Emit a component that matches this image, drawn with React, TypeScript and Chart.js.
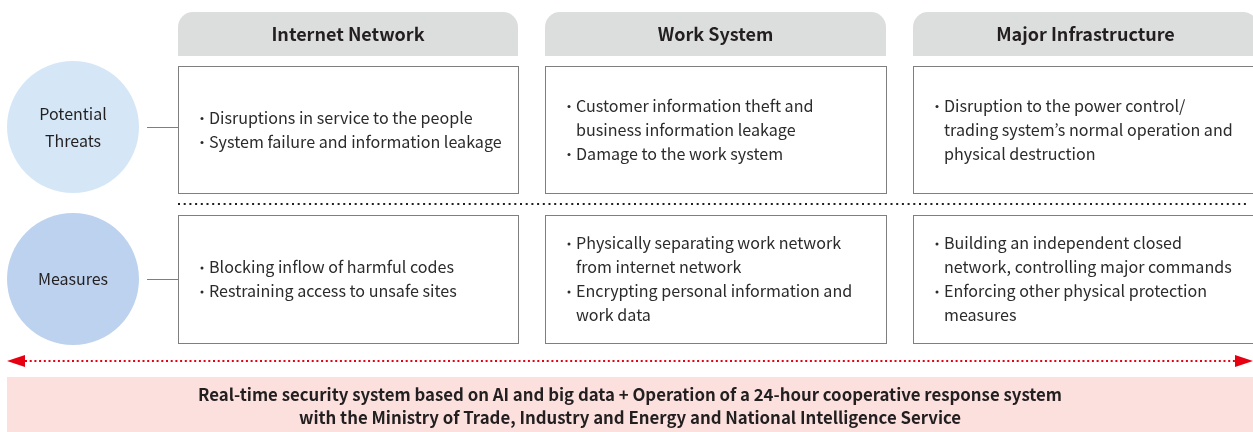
import { useEffect, useRef } from "react";
import { Chart, registerables } from "chart.js";

Chart.register(...registerables);

// ---- content ----
const columns = ["Internet Network", "Work System", "Major Infrastructure"];
const rowLabels = [["Potential", "Threats"], ["Measures"]];
const threats: string[][][] = [
  [["Disruptions in service to the people"], ["System failure and information leakage"]],
  [["Customer information theft and", "business information leakage"], ["Damage to the work system"]],
  [["Disruption to the power control/", "trading system’s normal operation and", "physical destruction"]],
];
const measures: string[][][] = [
  [["Blocking inflow of harmful codes"], ["Restraining access to unsafe sites"]],
  [["Physically separating work network", "from internet network"], ["Encrypting personal information and", "work data"]],
  [["Building an independent closed", "network, controlling major commands"], ["Enforcing other physical protection", "measures"]],
];
const footer = [
  "Real-time security system based on AI and big data + Operation of a 24-hour cooperative response system",
  "with the Ministry of Trade, Industry and Energy and National Intelligence Service",
];

// ---- layout (value units of the hidden linear scales) ----
const W = 1253;
const H = 432;
const COL_X = [178, 545, 913];
const COL_W = [340, 341, 345];
const HEADER_Y = [12, 56];
const ROW_Y = [
  [66, 193],
  [215, 343],
];
const DOT_Y = 204;
const DOT_X = [178, 1248];
const ARROW_Y = 361;
const ARROW_X = [7, 1253];
const FOOTER_Y = [377, 440];
const FOOTER_X = [7, 1253];
const CIRCLE_X = 73;
const CIRCLE_Y = [127, 279];
const CIRCLE_R = 66;
const CONNECT_X = [147, 178];

const FONT = '"Noto Sans CJK KR", "Noto Sans", sans-serif';
const TEXT = "#231f20";
const BODY_TEXT = "#2b2b2b";
const CIRCLE_COLORS = ["#d5e7f7", "#bdd2ee"];
const HEADER_BG = "#dcdddd";
const BORDER = "#7f7f7f";
const RED = "#e60012";
const PINK = "#fbe0dd";

export default function App() {
  const ref = useRef<HTMLCanvasElement>(null);

  useEffect(() => {
    const canvas = ref.current;
    if (!canvas) return;

    const diagram = {
      id: "diagram",
      beforeDatasetsDraw(chart: any) {
        const ctx: CanvasRenderingContext2D = chart.ctx;
        const xs = chart.scales.x;
        const ys = chart.scales.y;
        const X = (v: number) => xs.getPixelForValue(v);
        const Y = (v: number) => ys.getPixelForValue(v);
        const crisp = (p: number) => Math.round(p) + 0.5;
        ctx.save();

        // headers
        columns.forEach((name, i) => {
          const x0 = X(COL_X[i]);
          const x1 = X(COL_X[i] + COL_W[i]);
          const y0 = Y(HEADER_Y[0]);
          const y1 = Y(HEADER_Y[1]);
          ctx.fillStyle = HEADER_BG;
          ctx.beginPath();
          (ctx as any).roundRect(x0, y0, x1 - x0, y1 - y0, [15, 15, 0, 0]);
          ctx.fill();
          ctx.fillStyle = TEXT;
          ctx.font = `bold 18px ${FONT}`;
          ctx.textAlign = "center";
          ctx.textBaseline = "middle";
          ctx.fillText(name, (x0 + x1) / 2, (y0 + y1) / 2);
        });

        // boxes with bullet text
        const groups = [threats, measures];
        groups.forEach((group, r) => {
          const y0 = Y(ROW_Y[r][0]);
          const y1 = Y(ROW_Y[r][1]);
          group.forEach((items, c) => {
            const x0 = X(COL_X[c]);
            const x1 = X(COL_X[c] + COL_W[c]);
            ctx.fillStyle = "#ffffff";
            ctx.fillRect(x0, y0, x1 - x0, y1 - y0);
            ctx.strokeStyle = BORDER;
            ctx.lineWidth = 1;
            ctx.setLineDash([]);
            ctx.strokeRect(crisp(x0), crisp(y0), Math.round(x1 - x0), Math.round(y1 - y0));
            const lines: { t: string; bullet: boolean }[] = [];
            items.forEach((it) => it.forEach((t, k) => lines.push({ t, bullet: k === 0 })));
            const lh = 24;
            const cy = (y0 + y1) / 2;
            const start = cy - ((lines.length - 1) * lh) / 2;
            lines.forEach((ln, k) => {
              const yy = start + k * lh;
              ctx.textAlign = "left";
              ctx.textBaseline = "middle";
              ctx.fillStyle = BODY_TEXT;
              if (ln.bullet) {
                ctx.beginPath();
                ctx.arc(x0 + 24, yy + 1, 1.5, 0, Math.PI * 2);
                ctx.fill();
              }
              ctx.font = `16.1px ${FONT}`;
              ctx.fillText(ln.t, x0 + 31, yy);
            });
          });
          // connector from circle to box
          ctx.strokeStyle = BORDER;
          ctx.lineWidth = 1;
          ctx.beginPath();
          const cyc = crisp(Y(CIRCLE_Y[r]));
          ctx.moveTo(X(CONNECT_X[0]), cyc);
          ctx.lineTo(X(CONNECT_X[1]), cyc);
          ctx.stroke();
        });

        // black dotted separator
        ctx.strokeStyle = "#231f20";
        ctx.lineWidth = 2;
        ctx.setLineDash([2, 3.7]);
        ctx.beginPath();
        ctx.moveTo(X(DOT_X[0]), Y(DOT_Y));
        ctx.lineTo(X(DOT_X[1]), Y(DOT_Y));
        ctx.stroke();

        // red dotted double arrow
        const ay = Y(ARROW_Y);
        const ax0 = X(ARROW_X[0]);
        const ax1 = X(ARROW_X[1]);
        ctx.strokeStyle = RED;
        ctx.setLineDash([2, 2.7]);
        ctx.beginPath();
        ctx.moveTo(ax0 + 18, ay);
        ctx.lineTo(ax1 - 18, ay);
        ctx.stroke();
        ctx.setLineDash([]);
        ctx.fillStyle = RED;
        ctx.beginPath();
        ctx.moveTo(ax0, ay);
        ctx.lineTo(ax0 + 18, ay - 6);
        ctx.lineTo(ax0 + 18, ay + 6);
        ctx.closePath();
        ctx.fill();
        ctx.beginPath();
        ctx.moveTo(ax1, ay);
        ctx.lineTo(ax1 - 18, ay - 6);
        ctx.lineTo(ax1 - 18, ay + 6);
        ctx.closePath();
        ctx.fill();

        // footer band
        const fx0 = X(FOOTER_X[0]);
        const fx1 = X(FOOTER_X[1]);
        const fy0 = Y(FOOTER_Y[0]);
        const fy1 = Y(FOOTER_Y[1]);
        ctx.fillStyle = PINK;
        ctx.fillRect(fx0, fy0, fx1 - fx0, fy1 - fy0);
        ctx.fillStyle = TEXT;
        ctx.font = `bold 16.8px ${FONT}`;
        ctx.textAlign = "center";
        ctx.textBaseline = "middle";
        footer.forEach((t, k) => {
          ctx.fillText(t, (fx0 + fx1) / 2, fy0 + 18 + k * 23);
        });

        ctx.restore();
      },
      afterDatasetsDraw(chart: any) {
        const ctx: CanvasRenderingContext2D = chart.ctx;
        ctx.save();
        ctx.fillStyle = TEXT;
        ctx.font = `16px ${FONT}`;
        ctx.textAlign = "center";
        ctx.textBaseline = "middle";
        chart.data.datasets.forEach((ds: any, i: number) => {
          const el = chart.getDatasetMeta(i).data[0];
          const lines = rowLabels[i];
          const lh = 27;
          const start = el.y - ((lines.length - 1) * lh) / 2;
          lines.forEach((t, k) => ctx.fillText(t, el.x, start + k * lh));
        });
        ctx.restore();
      },
    };

    const chart = new Chart(canvas, {
      type: "bubble",
      data: {
        datasets: rowLabels.map((label, i) => ({
          label: label.join(" "),
          data: [{ x: CIRCLE_X, y: CIRCLE_Y[i], r: CIRCLE_R }],
          backgroundColor: CIRCLE_COLORS[i],
          borderWidth: 0,
          hoverRadius: 0,
        })),
      },
      options: {
        responsive: false,
        animation: false,
        events: [],
        layout: { padding: 0, autoPadding: false },
        scales: {
          x: { type: "linear", min: 0, max: W, display: false },
          y: { type: "linear", min: 0, max: H, reverse: true, display: false },
        },
        plugins: {
          legend: { display: false },
          tooltip: { enabled: false },
        },
      },
      plugins: [diagram],
    } as any);

    return () => chart.destroy();
  }, []);

  return (
    <div style={{ position: "absolute", left: 0, top: 0, width: W, height: H, background: "#fff" }}>
      <canvas ref={ref} width={W} height={H} style={{ display: "block" }} />
    </div>
  );
}
